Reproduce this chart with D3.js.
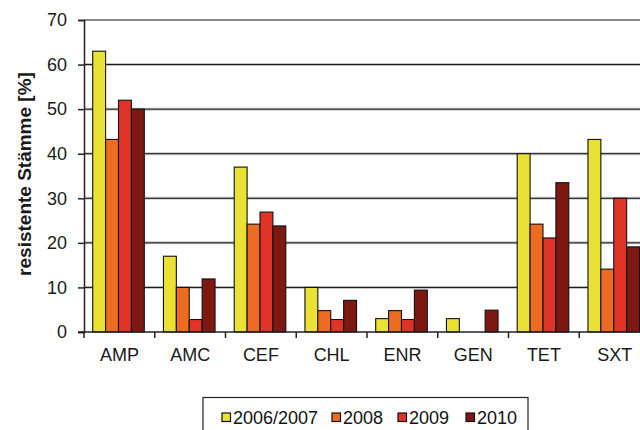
<!DOCTYPE html>
<html>
<head>
<meta charset="utf-8">
<script src="https://cdn.jsdelivr.net/npm/d3@7"></script>
<style>
  body { margin: 0; background: #fff; }
  text { font-family: "Liberation Sans", Arial, sans-serif; }
</style>
</head>
<body>
<div id="chart"></div>
<script>
// data
const categories = ["AMP", "AMC", "CEF", "CHL", "ENR", "GEN", "TET", "SXT"];
const seriesNames = ["2006/2007", "2008", "2009", "2010"];
const v2006 = [63, 17, 37, 10, 3, 3, 40, 43.2];
const v2008 = [43.2, 10, 24.2, 4.8, 4.8, 0, 24.2, 14.1];
const v2009 = [52, 2.8, 26.9, 2.8, 2.8, 0, 21.1, 30];
const v2010 = [50, 11.9, 23.8, 7.1, 9.4, 4.9, 33.5, 19.1];
const yTicks = [0, 10, 20, 30, 40, 50, 60, 70];
const colorList = ["#E9E133", "#EE6B22", "#E13428", "#7D1812"];

const seriesValues = [v2006, v2008, v2009, v2010];
const data = [];
categories.forEach((c, i) => {
    seriesNames.forEach((s, j) => {
        data.push({cat: c, series: s, value: seriesValues[j][i]});
    });
});

const W = 640, H = 430;
const plot = {left: 84, right: 650, top: 20, bottom: 332};

const svg = d3.select("#chart")
    .append("svg")
        .attr("width", W)
        .attr("height", H);

const xScale = d3.scaleBand()
    .domain(categories)
    .range([plot.left, plot.right])
    .padding(0);

const xSub = d3.scaleBand()
    .domain(seriesNames)
    .range([8.7, 8.7 + 51.6])
    .padding(0);

const yScale = d3.scaleLinear()
    .domain([0, 70])
    .range([plot.bottom, plot.top]);

const colors = d3.scaleOrdinal()
    .domain(seriesNames)
    .range(colorList);

// gridlines
const grid = svg.append("g");
grid.selectAll("line.halo")
    .data(yTicks.filter(d => d > 0 && d < 70))
    .join("line")
        .attr("class", "halo")
        .attr("x1", plot.left).attr("x2", W)
        .attr("y1", d => yScale(d)).attr("y2", d => yScale(d))
        .attr("stroke", "#c8c8c8")
        .attr("stroke-width", 3);
grid.selectAll("line.main")
    .data(yTicks.filter(d => d > 0))
    .join("line")
        .attr("class", "main")
        .attr("x1", plot.left).attr("x2", W)
        .attr("y1", d => yScale(d)).attr("y2", d => yScale(d))
        .attr("stroke", d => d === 70 ? "#888" : "#111")
        .attr("stroke-width", d => d === 70 ? 2 : 1);

// bars
svg.append("g")
    .selectAll("rect")
    .data(data)
    .join("rect")
        .attr("x", d => xScale(d.cat) + xSub(d.series))
        .attr("y", d => yScale(d.value))
        .attr("width", xSub.bandwidth())
        .attr("height", d => yScale(0) - yScale(d.value))
        .attr("fill", d => colors(d.series))
        .attr("stroke", "#111")
        .attr("stroke-width", d => d.value > 0 ? 1.1 : 0);

// y axis
const yAxis = svg.append("g")
    .attr("transform", `translate(${plot.left},0)`)
    .call(d3.axisLeft(yScale).tickValues(yTicks).tickSize(6).tickPadding(11));
yAxis.select(".domain").attr("stroke", "#222").attr("stroke-width", 1.5);
yAxis.selectAll(".tick line").attr("stroke", "#222").attr("stroke-width", 1.5);
yAxis.selectAll("text").style("font-size", "18px").attr("fill", "#1a1a1a");

// x axis
const xAxis = svg.append("g")
    .attr("transform", `translate(0,${plot.bottom})`)
    .call(d3.axisBottom(xScale).tickSize(0).tickPadding(16));
xAxis.select(".domain").remove();
xAxis.selectAll("text").style("font-size", "18px").attr("fill", "#1a1a1a");
svg.append("line")
    .attr("x1", plot.left - 6).attr("x2", W)
    .attr("y1", plot.bottom).attr("y2", plot.bottom)
    .attr("stroke", "#222").attr("stroke-width", 1.5);
svg.append("g")
    .selectAll("line")
    .data(categories)
    .join("line")
        .attr("x1", d => xScale(d)).attr("x2", d => xScale(d))
        .attr("y1", plot.bottom).attr("y2", plot.bottom + 6)
        .attr("stroke", "#222").attr("stroke-width", 1.5);

// y label
svg.append("text")
    .attr("transform", `translate(31,${(plot.top + plot.bottom) / 2 - 2}) rotate(-90)`)
    .attr("text-anchor", "middle")
    .style("font-size", "19px")
    .style("font-weight", "bold")
    .attr("fill", "#1a1a1a")
    .text("resistente Stämme [%]");

// legend
const legend = svg.append("g").attr("transform", "translate(203,397.5)");
legend.append("rect")
    .attr("width", 325).attr("height", 40)
    .attr("fill", "#fff")
    .attr("stroke", "#222").attr("stroke-width", 1.2);
const legendX = [19, 129, 195, 263];
const items = legend.selectAll("g.item")
    .data(seriesNames)
    .join("g")
        .attr("class", "item")
        .attr("transform", (d, i) => `translate(${legendX[i]},0)`);
items.append("rect")
    .attr("x", 0).attr("y", 15.5)
    .attr("width", 8.5).attr("height", 8.5)
    .attr("fill", d => colors(d))
    .attr("stroke", "#111").attr("stroke-width", 1.2);
items.append("text")
    .attr("x", 11).attr("y", 26)
    .style("font-size", "18px")
    .attr("fill", "#111")
    .text(d => d);
</script>
</body>
</html>
